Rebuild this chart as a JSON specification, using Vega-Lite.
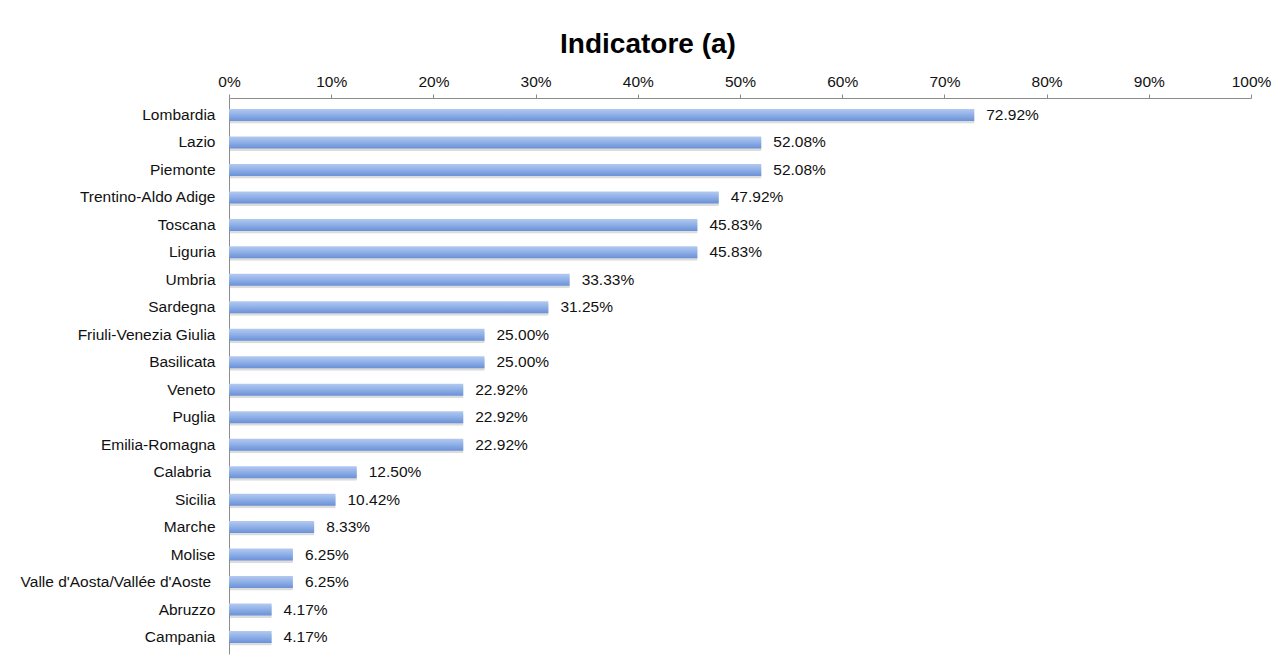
{
  "$schema": "https://vega.github.io/schema/vega-lite/v6.json",
  "autosize": "none",
  "width": 1022,
  "height": 556,
  "padding": {"left": 229, "top": 98, "right": 30, "bottom": 9},
  "background": "white",
  "config": {
    "view": {"stroke": null},
    "font": "Liberation Sans"
  },
  "title": {
    "text": "Indicatore (a)",
    "fontSize": 28,
    "fontWeight": "bold",
    "font": "Liberation Sans",
    "color": "#000000",
    "anchor": "middle",
    "frame": "group",
    "dx": -92,
    "offset": 15
  },
  "data": {
    "values": [
      {"region": "Lombardia", "value": 0.7292},
      {"region": "Lazio", "value": 0.5208},
      {"region": "Piemonte", "value": 0.5208},
      {"region": "Trentino-Aldo Adige", "value": 0.4792},
      {"region": "Toscana", "value": 0.4583},
      {"region": "Liguria", "value": 0.4583},
      {"region": "Umbria", "value": 0.3333},
      {"region": "Sardegna", "value": 0.3125},
      {"region": "Friuli-Venezia Giulia", "value": 0.25},
      {"region": "Basilicata", "value": 0.25},
      {"region": "Veneto", "value": 0.2292},
      {"region": "Puglia", "value": 0.2292},
      {"region": "Emilia-Romagna", "value": 0.2292},
      {"region": "Calabria\u00a0\u200b", "value": 0.125},
      {"region": "Sicilia", "value": 0.1042},
      {"region": "Marche", "value": 0.0833},
      {"region": "Molise", "value": 0.0625},
      {"region": "Valle d'Aosta/Vallée d'Aoste\u00a0\u200b", "value": 0.0625},
      {"region": "Abruzzo", "value": 0.0417},
      {"region": "Campania", "value": 0.0417}
    ]
  },
  "encoding": {
    "y": {
      "field": "region",
      "type": "nominal",
      "sort": null,
      "scale": {"paddingInner": 0.563, "paddingOuter": 0.4},
      "axis": {
        "title": null,
        "ticks": false,
        "domainColor": "#8c8c8c",
        "domainWidth": 1,
        "labelFontSize": 15.5,
        "labelColor": "#111111",
        "labelPadding": 14,
        "labelLimit": 0,
        "labelFont": "Liberation Sans"
      }
    },
    "x": {
      "field": "value",
      "type": "quantitative",
      "scale": {"domain": [0, 1], "nice": false},
      "axis": {
        "orient": "top",
        "title": null,
        "format": ".0%",
        "values": [0, 0.1, 0.2, 0.3, 0.4, 0.5, 0.6, 0.7, 0.8, 0.9, 1],
        "grid": false,
        "domainColor": "#8c8c8c",
        "tickColor": "#8c8c8c",
        "tickSize": 4,
        "labelPadding": 5,
        "labelFontSize": 15.5,
        "labelColor": "#111111",
        "labelFont": "Liberation Sans",
        "labelFlush": false
      }
    }
  },
  "layer": [
    {
      "mark": {"type": "bar", "color": "#9a9a9a", "opacity": 0.35, "yOffset": 2.5, "xOffset": 1, "cornerRadius": 1}
    },
    {
      "mark": {
        "type": "bar",
        "color": {
          "gradient": "linear",
          "x1": 0, "y1": 0, "x2": 0, "y2": 1,
          "stops": [
            {"offset": 0, "color": "#b3c9f0"},
            {"offset": 0.4, "color": "#95b4e9"},
            {"offset": 1, "color": "#6a91d7"}
          ]
        }
      }
    },
    {
      "mark": {"type": "text", "align": "left", "baseline": "middle", "dx": 12, "fontSize": 15.5, "color": "#111111", "font": "Liberation Sans"},
      "encoding": {
        "text": {"field": "value", "type": "quantitative", "format": ".2%"}
      }
    }
  ]
}
